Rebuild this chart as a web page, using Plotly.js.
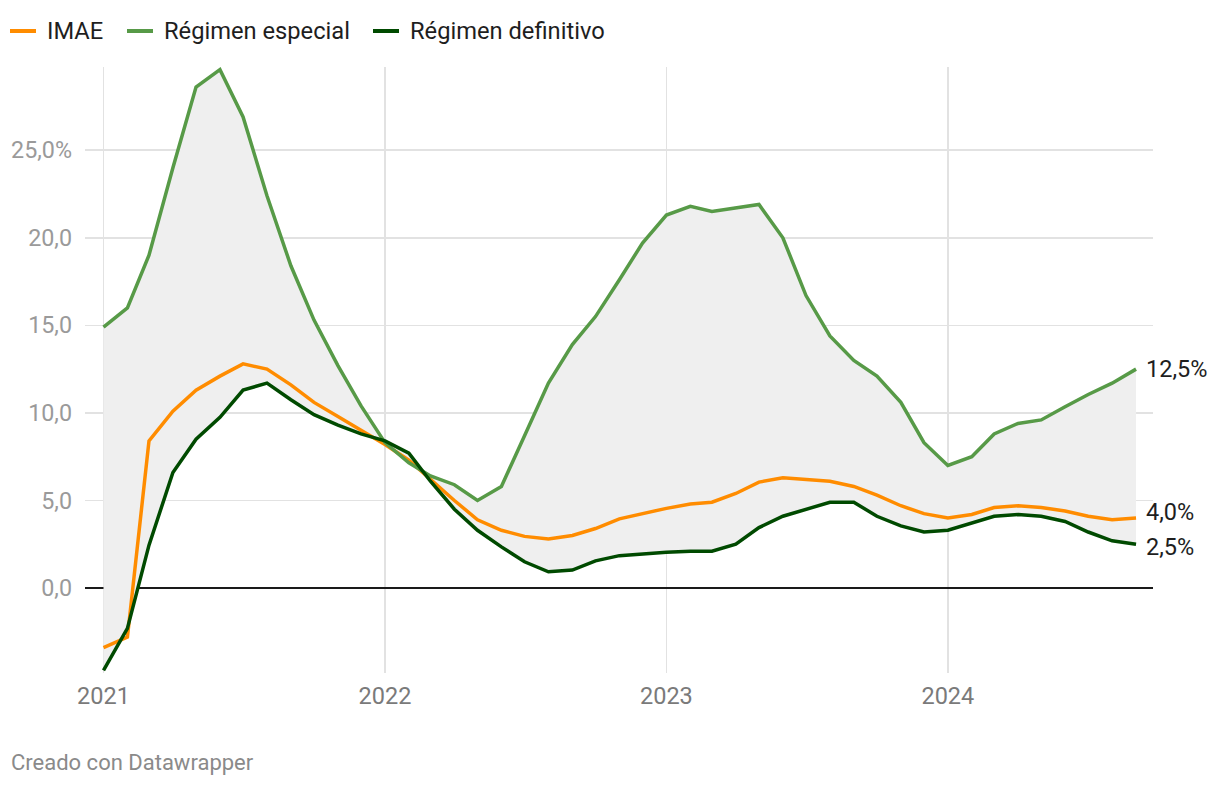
<!DOCTYPE html>
<html>
<head>
<meta charset="utf-8">
<script src="https://cdn.plot.ly/plotly-3.0.1.min.js"></script>
<style>
  html, body { margin: 0; padding: 0; background: #ffffff; }
  #chart { width: 1220px; height: 786px; }
</style>
</head>
<body>
<div id="chart"></div>
<script>
const months = [
  '2021-01-01','2021-02-01','2021-03-01','2021-04-01','2021-05-01','2021-06-01','2021-07-01','2021-08-01','2021-09-01','2021-10-01','2021-11-01','2021-12-01',
  '2022-01-01','2022-02-01','2022-03-01','2022-04-01','2022-05-01','2022-06-01','2022-07-01','2022-08-01','2022-09-01','2022-10-01','2022-11-01','2022-12-01',
  '2023-01-01','2023-02-01','2023-03-01','2023-04-01','2023-05-01','2023-06-01','2023-07-01','2023-08-01','2023-09-01','2023-10-01','2023-11-01','2023-12-01',
  '2024-01-01','2024-02-01','2024-03-01','2024-04-01','2024-05-01','2024-06-01','2024-07-01','2024-08-01','2024-09-01'
];

const imae = [-3.4, -2.8, 8.4, 10.1, 11.3, 12.1, 12.8, 12.5, 11.6, 10.6, 9.8, 9.0,
  8.2, 7.3, 6.2, 5.0, 3.9, 3.3, 2.95, 2.8, 3.0, 3.4, 3.95, 4.25,
  4.55, 4.8, 4.9, 5.4, 6.05, 6.3, 6.2, 6.1, 5.8, 5.3, 4.7, 4.25,
  4.0, 4.2, 4.6, 4.7, 4.6, 4.4, 4.1, 3.9, 4.0];

const especial = [14.9, 16.0, 19.0, 24.0, 28.6, 29.6, 26.9, 22.4, 18.4, 15.3, 12.7, 10.4,
  8.3, 7.15, 6.4, 5.9, 5.0, 5.8, 8.7, 11.7, 13.9, 15.5, 17.6, 19.7,
  21.3, 21.8, 21.5, 21.7, 21.9, 20.0, 16.7, 14.4, 13.0, 12.1, 10.6, 8.3,
  7.0, 7.5, 8.8, 9.4, 9.6, 10.35, 11.05, 11.7, 12.5];

const definitivo = [-4.7, -2.3, 2.45, 6.6, 8.5, 9.75, 11.3, 11.7, 10.75, 9.9, 9.3, 8.8,
  8.4, 7.7, 6.1, 4.5, 3.3, 2.35, 1.5, 0.93, 1.03, 1.55, 1.85, 1.95,
  2.05, 2.1, 2.1, 2.5, 3.45, 4.1, 4.5, 4.9, 4.9, 4.1, 3.55, 3.2,
  3.3, 3.7, 4.1, 4.2, 4.1, 3.8, 3.2, 2.7, 2.5];

const seriesNames = ['IMAE', 'Régimen especial', 'Régimen definitivo'];
const endLabels = ['4,0%', '12,5%', '2,5%'];

const yTickVals = [0, 5, 10, 15, 20, 25];
const yTickText = ['0,0', '5,0', '10,0', '15,0', '20,0', '25,0%'];
const xTickVals = ['2021-01-01', '2022-01-01', '2023-01-01', '2024-01-01'];
const xTickText = ['2021', '2022', '2023', '2024'];

const colors = ['#ff8c00', '#579a47', '#004a00'];
const FONT = 'Roboto, "Noto Sans", sans-serif';

// page geometry helpers (plot area: x 85..1153, y 67..673)
const W = 1220, H = 786, ML = 85, MR = 67, MT = 67, MB = 113;
const PW = W - ML - MR, PH = H - MT - MB;
const px = v => (v - ML) / PW;
const py = v => (H - MB - v) / PH;

const traces = [
  { x: months, y: definitivo, type: 'scatter', mode: 'lines', line: { width: 0, color: 'rgba(0,0,0,0)' },
    showlegend: false, hoverinfo: 'skip' },
  { x: months, y: especial, type: 'scatter', mode: 'lines', line: { width: 0, color: 'rgba(0,0,0,0)' },
    fill: 'tonexty', fillcolor: '#efefef', showlegend: false, hoverinfo: 'skip' },
  { x: months, y: imae, type: 'scatter', mode: 'lines', name: seriesNames[0],
    line: { color: colors[0], width: 3.5 }, showlegend: false },
  { x: months, y: especial, type: 'scatter', mode: 'lines', name: seriesNames[1],
    line: { color: colors[1], width: 3.5 }, showlegend: false },
  { x: months, y: definitivo, type: 'scatter', mode: 'lines', name: seriesNames[2],
    line: { color: colors[2], width: 3.5 }, showlegend: false }
];

const last = months.length - 1;
const annotations = [
  { x: months[last], y: especial[last], text: endLabels[1], yshift: 0 },
  { x: months[last], y: imae[last], text: endLabels[0], yshift: 6 },
  { x: months[last], y: definitivo[last], text: endLabels[2], yshift: -3 }
].map(a => Object.assign({
  xref: 'x', yref: 'y', showarrow: false, xanchor: 'left', yanchor: 'middle', xshift: 8,
  font: { family: FONT, size: 23.5, color: '#1e1e1e' }
}, a));

annotations.push({
  xref: 'paper', yref: 'paper', x: px(9), y: py(762),
  xanchor: 'left', yanchor: 'middle', showarrow: false,
  text: 'Creado con Datawrapper',
  font: { family: FONT, size: 22, color: '#8a8a8a' }
});

// manual legend
const legendX = [10, 127, 373];
const legendY = 31;
const shapes = [];
seriesNames.forEach((name, i) => {
  shapes.push({
    type: 'line', xref: 'paper', yref: 'paper',
    x0: px(legendX[i]), x1: px(legendX[i] + 26), y0: py(legendY), y1: py(legendY),
    line: { color: colors[i], width: 4 }
  });
  annotations.push({
    xref: 'paper', yref: 'paper', x: px(legendX[i] + 35), y: py(legendY),
    xanchor: 'left', yanchor: 'middle', showarrow: false, text: name,
    font: { family: FONT, size: 23.7, color: '#1e1e1e' }
  });
});

const layout = {
  width: W, height: H,
  margin: { l: ML, r: MR, t: MT, b: MB },
  paper_bgcolor: '#ffffff', plot_bgcolor: '#ffffff',
  font: { family: FONT },
  showlegend: false,
  xaxis: {
    type: 'date',
    range: ['2020-12-08', '2024-09-23'],
    tickmode: 'array', tickvals: xTickVals, ticktext: xTickText,
    showgrid: true, gridcolor: '#e2e2e2', gridwidth: 1.5,
    zeroline: false, showline: false, ticks: '',
    tickfont: { family: FONT, size: 23.5, color: '#7a7a7a' },
    ticklabelstandoff: 6,
    fixedrange: true
  },
  yaxis: {
    range: [-4.85, 29.75],
    tickmode: 'array', tickvals: yTickVals, ticktext: yTickText,
    showgrid: true, gridcolor: '#e2e2e2', gridwidth: 1.5,
    zeroline: true, zerolinecolor: '#1a1a1a', zerolinewidth: 1.5,
    showline: false, ticks: '',
    tickfont: { family: FONT, size: 23.3, color: '#9a9a9a' },
    ticklabelstandoff: 12,
    fixedrange: true
  },
  shapes: shapes,
  annotations: annotations
};

Plotly.newPlot('chart', traces, layout, { displayModeBar: false, staticPlot: true });
</script>
</body>
</html>
